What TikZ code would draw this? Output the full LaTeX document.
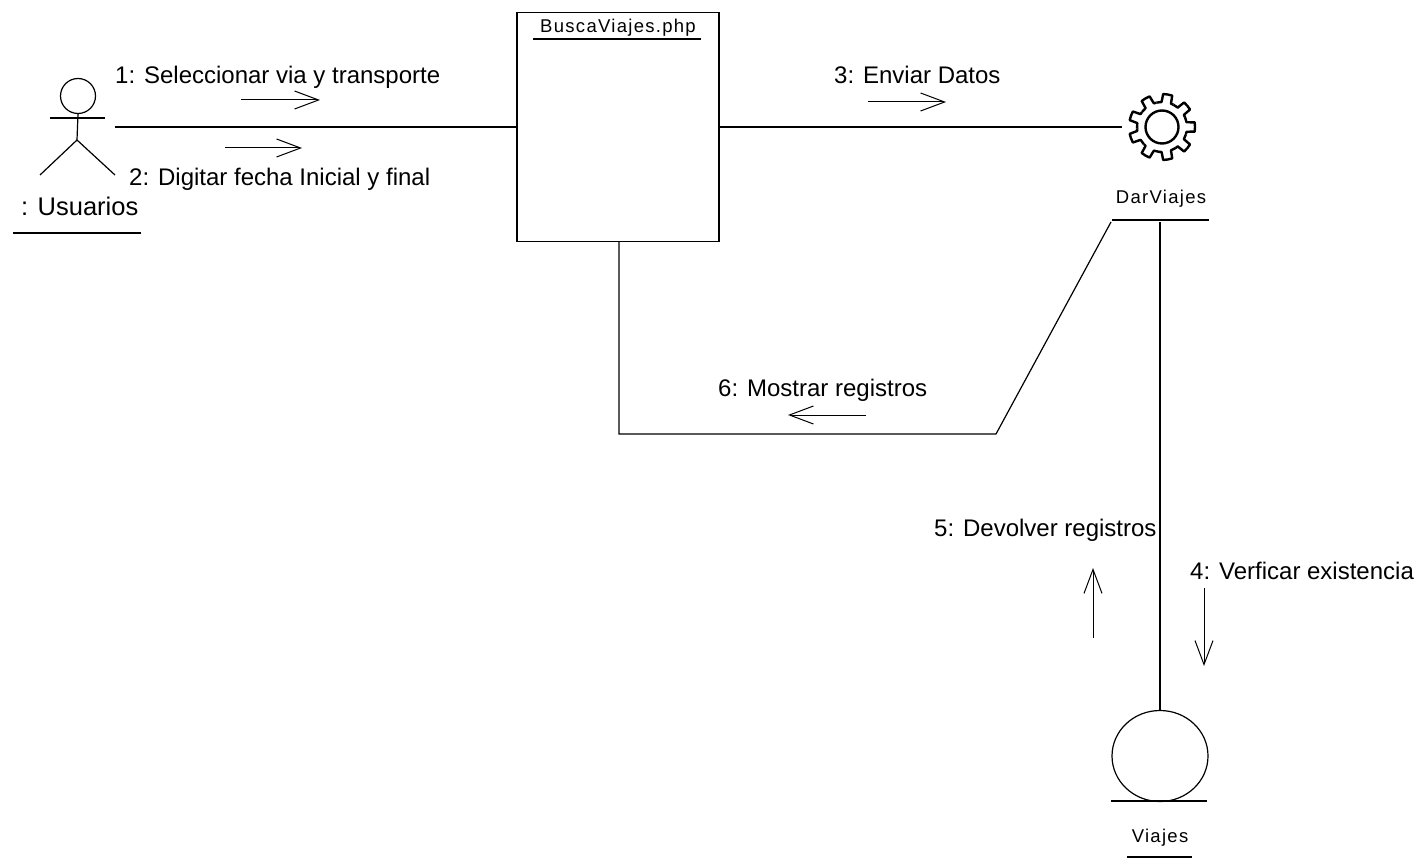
\documentclass[tikz,border=0pt]{standalone}
\usepackage{fontspec}
\setmainfont{Liberation Sans}
\newfontfamily\tagfont[LetterSpace=7]{Liberation Sans}
\usetikzlibrary{arrows.meta,positioning,shapes.geometric}
\tikzset{
  msg/.style={inner sep=0pt, font=\fontsize{24}{28}\selectfont},
  tag/.style={inner sep=0pt, font=\tagfont\fontsize{18.5}{21}\selectfont},
  link/.style={line width=1.2pt},
  flow/.style={line width=1pt, -{Straight Barb[length=24pt,width=18pt,line width=1pt]}},
}

\begin{document}
\begin{tikzpicture}[x=1pt,y=-1pt]
    \useasboundingbox (0,0) rectangle (1415,858);

    % actor
    \node[draw, circle, line width=1.2pt, minimum size=35pt, inner sep=0pt] (head) at (78,96) {};
    \coordinate (hip) at (77,140);
    \draw[link] (head.south) -- (hip);
    \draw[link] (50,118) -- (105,118);
    \draw[link] (hip) -- (40,175);
    \draw[link] (hip) -- (115,175);
    \node[msg, anchor=base west, font=\fontsize{25.5}{28}\selectfont] (usuarios) at (21,216) {: Usuarios};
    \draw[link] (13,233) -- (141,233);
    \coordinate (actorend) at (115,127);

    % page
    \node[draw, line width=1.2pt, minimum width=202pt, minimum height=229pt, inner sep=0pt] (busca) at (618,127) {};
    \node[tag, anchor=base] (buscatxt) at (618,33) {BuscaViajes.php};
    \draw[link] (533,39) -- (701,39);

    % control
    \coordinate (gear) at (1162,127);
    \foreach \a in {0,40,...,320}
      \draw[line width=2.4pt, line join=round] (gear) ++(\a-23:25)
        arc[start angle=\a-23, end angle=\a-11, radius=25]
        -- ([shift={(\a-8:33)}]gear) arc[start angle=\a-8, end angle=\a+8, radius=33]
        -- ([shift={(\a+11:25)}]gear) arc[start angle=\a+11, end angle=\a+17, radius=25];
    \node[draw, circle, line width=2.4pt, minimum size=33pt, inner sep=0pt] (gearhole) at (gear) {};
    \coordinate (gearend) at (1122,127);
    \node[tag, anchor=base] (darviajes) at (1161,204) {DarViajes};
    \draw[link] (1112,220) -- (1209,220);
    \coordinate (dartop) at (1160,222);
    \coordinate (darleft) at (1111,222);

    % entity
    \node[draw, ellipse, line width=1.2pt, minimum width=96pt, minimum height=91pt, inner sep=0pt] (viajes) at (1160,756) {};
    \draw[link] (1111,801) -- (1207,801);
    \node[tag, anchor=base] (viajestxt) at (1160,842) {Viajes};
    \draw[link] (1127,857) -- (1192,857);

    % links
    \draw[link] (actorend) -- (actorend -| busca.west);
    \draw[link] (busca.east |- gearend) -- (gearend);
    \draw[link] (dartop) -- (viajes.north);
    \coordinate (bend) at (996,434);
    \draw[link] ([xshift=1pt]busca.south) -- ([xshift=1pt]busca.south |- bend) -- (bend) -- (darleft);

    % messages
    \node[msg, anchor=base west] (m1) at (115,84) {1: Seleccionar via y transporte};
    \node[msg, anchor=base west] (m2) at (129,186) {2: Digitar fecha Inicial y final};
    \node[msg, anchor=base west] (m3) at (834,84) {3: Enviar Datos};
    \node[msg, anchor=base west] (m4) at (1190,579) {4: Verficar existencia};
    \node[msg, anchor=base west] (m5) at (934,536) {5: Devolver registros};
    \node[msg, anchor=base west] (m6) at (718,396) {6: Mostrar registros};

    \coordinate (a1) at (241,100); \coordinate (b1) at (320,100);
    \coordinate (a2) at (225,148); \coordinate (b2) at (302,148);
    \coordinate (a3) at (868,102); \coordinate (b3) at (946,102);
    \coordinate (a4) at (1204,588); \coordinate (b4) at (1204,666);
    \coordinate (a5) at (1093,638); \coordinate (b5) at (1093,568);
    \coordinate (a6) at (866,415); \coordinate (b6) at (788,415);
    \foreach \i in {1,...,6}
      \draw[flow] (a\i) -- (b\i);
\end{tikzpicture}
\end{document}
